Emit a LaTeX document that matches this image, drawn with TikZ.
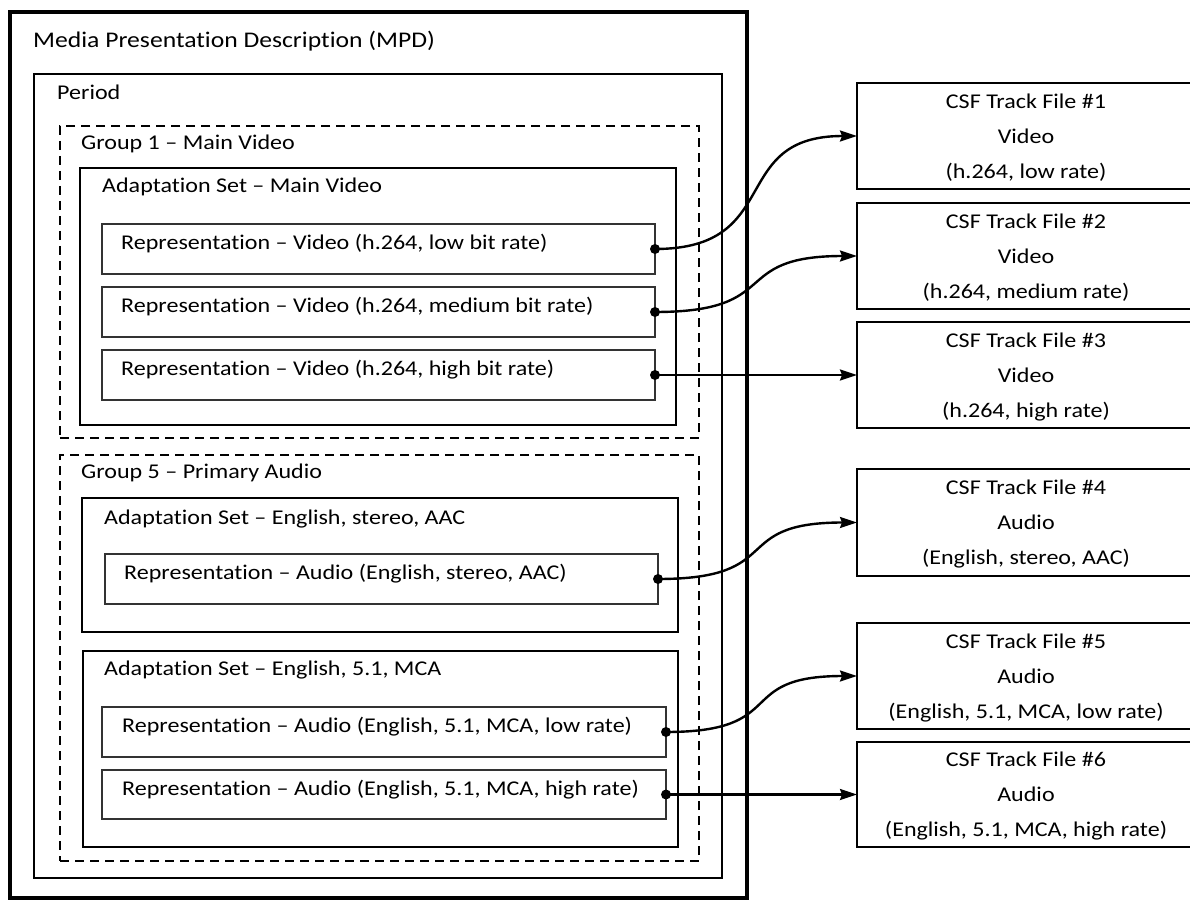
\documentclass[tikz,border=0pt]{standalone}
\usepackage{fontspec}
\setmainfont{Carlito}[FakeStretch=1.145, Ligatures=NoCommon]
\usetikzlibrary{arrows.meta,fit}
\begin{document}
\begin{tikzpicture}[x=1pt,y=-1pt,
  frame/.style={draw, inner sep=0pt, outer sep=0pt},
  mpdbox/.style={frame, line width=4pt},
  periodbox/.style={frame, line width=1.8pt},
  groupbox/.style={frame, line width=2.4pt, dash pattern=on 9pt off 6pt},
  setbox/.style={frame, line width=2.6pt},
  repbox/.style={frame, line width=1.3pt, draw=black!80},
  trackbox/.style={frame, line width=2.6pt},
  lbl/.style={anchor=base west, inner sep=0pt, font=\fontsize{21}{25}\selectfont},
  title/.style={anchor=base west, inner sep=0pt, font=\fontsize{22.4}{27}\selectfont},
  tracklbl/.style={inner sep=0pt, align=center, font=\fontsize{21}{35}\selectfont},
  conn/.style={line width=2.4pt, -{Stealth[length=17pt,width=11pt,inset=2pt]}},
  dot/.style={fill=black}
]
\useasboundingbox (0,0) rectangle (1190,901);
\clip (0,0) rectangle (1190,901);

% containers
\node[mpdbox, fit={(10,12)(747,898)}] (mpd) {};
\node[periodbox, fit={(34,74)(722,878)}] (period) {};
\node[groupbox, fit={(60,126)(699,438)}] (g1) {};
\node[groupbox, fit={(60,455)(699,861)}] (g5) {};
\node[setbox, fit={(80,168)(676,425)}] (as1) {};
\node[setbox, fit={(82,498)(678,632)}] (as2) {};
\node[setbox, fit={(83,651)(678,847)}] (as3) {};

\node[repbox, fit={(102,224)(655,274)}] (r1) {};
\node[repbox, fit={(102,287)(655,337)}] (r2) {};
\node[repbox, fit={(102,350)(655,400)}] (r3) {};
\node[repbox, fit={(105,554)(658,604)}] (r4) {};
\node[repbox, fit={(102,707)(666,757)}] (r5) {};
\node[repbox, fit={(102,770)(666,819)}] (r6) {};

% labels
\node[title] (mpdlbl) at (33,48) {Media Presentation Description (MPD)};
\node[lbl] (periodlbl) at (57,100) {Period};
\node[lbl] (g1lbl) at (81,150) {Group 1 – Main Video};
\node[lbl] (as1lbl) at (102,193) {Adaptation Set – Main Video};
\node[lbl] (r1lbl) at (121,249) {Representation – Video (h.264, low bit rate)};
\node[lbl] (r2lbl) at (121,312) {Representation – Video (h.264, medium bit rate)};
\node[lbl] (r3lbl) at (121,375) {Representation – Video (h.264, high bit rate)};
\node[lbl] (g5lbl) at (81,478) {Group 5 – Primary Audio};
\node[lbl] (as2lbl) at (104,524) {Adaptation Set – English, stereo, AAC};
\node[lbl] (r4lbl) at (124,579) {Representation – Audio (English, stereo, AAC)};
\node[lbl] (as3lbl) at (104,675) {Adaptation Set – English, 5.1, MCA};
\node[lbl] (r5lbl) at (122,732) {Representation – Audio (English, 5.1, MCA, low rate)};
\node[lbl] (r6lbl) at (122,795) {Representation – Audio (English, 5.1, MCA, high rate)};

% track files
\node[trackbox, fit={(857,83)(1195,189)}] (t1) {};
\node[trackbox, fit={(857,203)(1195,309)}] (t2) {};
\node[trackbox, fit={(857,322)(1195,428)}] (t3) {};
\node[trackbox, fit={(857,469)(1195,576)}] (t4) {};
\node[trackbox, fit={(857,623)(1195,729)}] (t5) {};
\node[trackbox, fit={(857,742)(1195,847)}] (t6) {};

\node[tracklbl] (t1lbl) at ([yshift=-2pt]t1.center) {CSF Track File \#1\\Video\\(h.264, low rate)};
\node[tracklbl] (t2lbl) at ([yshift=-2pt]t2.center) {CSF Track File \#2\\Video\\(h.264, medium rate)};
\node[tracklbl] (t3lbl) at ([yshift=-2pt]t3.center) {CSF Track File \#3\\Video\\(h.264, high rate)};
\node[tracklbl] (t4lbl) at ([yshift=-2pt]t4.center) {CSF Track File \#4\\Audio\\(English, stereo, AAC)};
\node[tracklbl] (t5lbl) at ([yshift=-2pt]t5.center) {CSF Track File \#5\\Audio\\(English, 5.1, MCA, low rate)};
\node[tracklbl] (t6lbl) at ([yshift=-2pt]t6.center) {CSF Track File \#6\\Audio\\(English, 5.1, MCA, high rate)};

% connectors
\draw[conn] (r1.east) .. controls +(130,0) and +(-130,0) .. (t1.west);
\draw[conn] (r2.east) .. controls +(130,0) and +(-130,0) .. (t2.west);
\draw[conn] (r3.east) -- (t3.west);
\draw[conn] (r4.east) .. controls +(130,0) and +(-130,0) .. (t4.west);
\draw[conn] (r5.east) .. controls +(125,0) and +(-125,0) .. (t5.west);
\draw[conn] (r6.east) -- (t6.west);
\foreach \r in {r1,r2,r3,r4,r5,r6} \fill[dot] (\r.east) circle (5pt);
\end{tikzpicture}
\end{document}
